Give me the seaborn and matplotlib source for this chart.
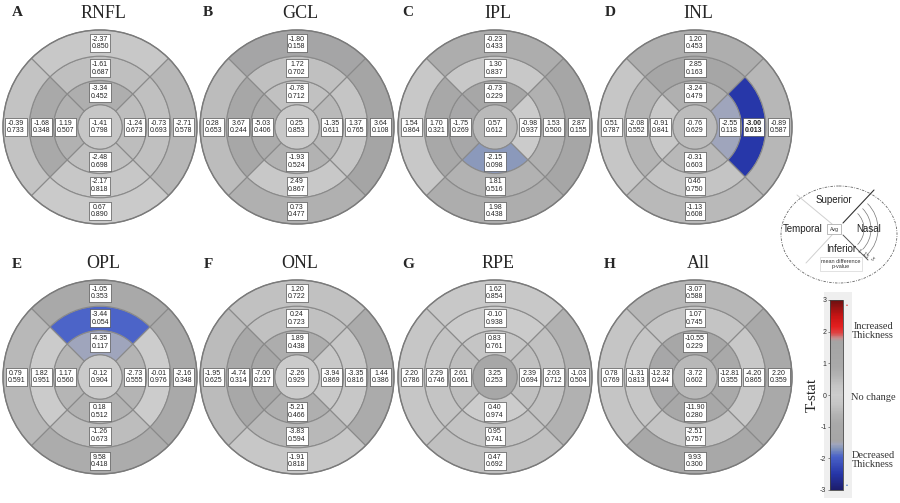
import math
import matplotlib
matplotlib.use("Agg")
import matplotlib.pyplot as plt
from matplotlib.patches import Wedge, Circle, Ellipse, Rectangle, Arc
from matplotlib.colors import LinearSegmentedColormap, Normalize
import matplotlib.colorbar as mcolorbar
import seaborn as sns

sns.set_theme(style="white")
plt.rcParams['font.family'] = ['Liberation Sans', 'DejaVu Sans']

# Order of each list: centre, inner ring (S, N, I, T), middle ring (S, N, I, T), outer ring (S, N, I, T)
rnfl_diff = [-1.41, -3.34, -1.24, -2.48, 1.19, -1.61, -0.73, -2.17, -1.68, -2.37, -2.71, 0.67, -0.39]
rnfl_p = [0.798, 0.452, 0.673, 0.698, 0.507, 0.687, 0.693, 0.818, 0.348, 0.850, 0.578, 0.890, 0.733]
gcl_diff = [0.25, -0.78, -1.35, -1.93, -5.03, 1.72, 1.37, 2.49, 3.67, -1.80, 3.64, 0.73, 0.28]
gcl_p = [0.853, 0.712, 0.611, 0.524, 0.406, 0.702, 0.765, 0.867, 0.244, 0.158, 0.108, 0.477, 0.653]
ipl_diff = [0.57, -0.73, -0.98, -2.15, -1.75, 1.30, 1.53, 1.81, 1.70, -0.23, 2.87, 1.98, 1.54]
ipl_p = [0.612, 0.229, 0.937, 0.098, 0.269, 0.837, 0.500, 0.516, 0.321, 0.433, 0.155, 0.438, 0.864]
inl_diff = [-0.76, -3.24, -2.55, -0.31, -0.91, 2.85, -3.00, 0.46, -2.08, 1.20, -0.89, -1.13, 0.51]
inl_p = [0.629, 0.479, 0.118, 0.603, 0.841, 0.163, 0.013, 0.750, 0.552, 0.453, 0.587, 0.608, 0.787]
opl_diff = [-0.12, -4.35, -2.73, 0.18, 1.17, -3.44, -0.01, -1.26, 1.82, -1.05, -2.16, 9.58, 0.79]
opl_p = [0.904, 0.117, 0.555, 0.512, 0.560, 0.054, 0.976, 0.673, 0.951, 0.353, 0.348, 0.418, 0.591]
onl_diff = [-2.26, 1.89, -3.94, -5.21, -7.00, 0.24, -3.35, -3.83, -4.74, 1.20, 1.44, -1.91, -1.95]
onl_p = [0.929, 0.438, 0.869, 0.466, 0.217, 0.723, 0.816, 0.594, 0.314, 0.722, 0.386, 0.818, 0.625]
rpe_diff = [3.25, 0.83, 2.39, 0.40, 2.61, -0.10, 2.03, 0.95, 2.29, 1.62, -1.03, 0.47, 2.20]
rpe_p = [0.253, 0.761, 0.694, 0.974, 0.661, 0.938, 0.712, 0.741, 0.746, 0.854, 0.504, 0.692, 0.786]
all_diff = [-3.72, -10.55, -12.81, -11.90, -12.32, 1.07, -4.20, -2.51, -1.31, -3.07, 2.20, 9.93, 0.78]
all_p = [0.602, 0.229, 0.355, 0.280, 0.244, 0.745, 0.865, 0.757, 0.813, 0.588, 0.359, 0.300, 0.769]

panel_letters = ["A", "B", "C", "D", "E", "F", "G", "H"]
panel_titles = ["RNFL", "GCL", "IPL", "INL", "OPL", "ONL", "RPE", "All"]
panel_data = [(rnfl_diff, rnfl_p), (gcl_diff, gcl_p), (ipl_diff, ipl_p), (inl_diff, inl_p),
              (opl_diff, opl_p), (onl_diff, onl_p), (rpe_diff, rpe_p), (all_diff, all_p)]

cbar_ticks = [3, 2, 1, 0, -1, -2, -3]

# T-stat colour scale (grey around zero, blue for thinning, red for thickening)
nodes = [(-3.0, "#1c1c6a"), (-2.5, "#2636a8"), (-1.95, "#4a62c8"), (-1.7, "#8294bb"),
         (-1.56, "#a0a6bc"), (-1.45, "#a5a5a6"), (-0.9, "#a9a9a9"), (-0.6, "#b4b4b4"),
         (-0.3, "#c5c5c5"), (0.0, "#cdcdcd"), (0.3, "#c5c5c5"), (0.6, "#b4b4b4"),
         (0.9, "#a9a9a9"), (1.7, "#a4a4a4"), (1.8, "#c49090"), (1.95, "#de4848"),
         (2.15, "#e42020"), (2.5, "#c81414"), (3.0, "#6a1010")]
cmap = LinearSegmentedColormap.from_list("tstat", [((t + 3) / 6, c) for t, c in nodes])
norm = Normalize(-3, 3)


def zval(p):
    # two-sided p-value -> |t| (normal approx.)
    lo, hi = 0.0, 6.0
    for _ in range(60):
        mid = (lo + hi) / 2
        if math.erfc(mid / math.sqrt(2)) > p:
            lo = mid
        else:
            hi = mid
    return (lo + hi) / 2


W, H = 900, 503
fig = plt.figure(figsize=(W / 100, H / 100), dpi=100)
fig.patch.set_facecolor("white")


def px_axes(x0, y0, w, h):
    return fig.add_axes([x0 / W, 1 - (y0 + h) / H, w / W, h / H])


def fig_text(x, y, s, **kw):
    fig.text(x / W, 1 - y / H, s, **kw)


radii = [0.23, 0.48, 0.73, 1.0]
sectors = [(45, 135), (-45, 45), (225, 315), (135, 225)]
label_angles = [90, 0, 270, 180]


def draw_panel(ax, diffs, pvals):
    ax.set_xlim(-1, 1)
    ax.set_ylim(-1, 1)
    ax.axis("off")
    tvals = [math.copysign(zval(p), d) for d, p in zip(diffs, pvals)]
    ax.add_patch(Circle((0, 0), radii[0], fc=cmap(norm(tvals[0])), ec="#8a8a8a", lw=0.8, clip_on=False))
    k = 1
    for ring in range(3):
        r_in, r_out = radii[ring], radii[ring + 1]
        for (a1, a2) in sectors:
            ax.add_patch(Wedge((0, 0), r_out, a1, a2, width=r_out - r_in,
                               fc=cmap(norm(tvals[k])), ec="#8a8a8a", lw=0.8, clip_on=False))
            k += 1
    ax.add_patch(Circle((0, 0), 1.0, fill=False, ec="#7a7a7a", lw=1.0, clip_on=False))
    # labels
    k = 0
    for ring in range(4):
        if ring == 0:
            positions = [(0, 0)]
        else:
            rm = (radii[ring - 1] + radii[ring]) / 2
            positions = [(rm * math.cos(math.radians(a)), rm * math.sin(math.radians(a))) for a in label_angles]
        for (x, y) in positions:
            d, p = diffs[k], pvals[k]
            ax.text(x, y, f"{d:.2f}\n{p:.3f}", ha="center", va="center", fontsize=5.0,
                    linespacing=1.15, color="#222222",
                    fontweight="bold" if p < 0.05 else "normal",
                    bbox=dict(boxstyle="square,pad=0.25", fc="white", ec="#333333", lw=0.4))
            k += 1


centers_x = [100, 297, 495, 695]
centers_y = [127, 377]
letter_x = [17, 208, 408, 610]
R = 97

for i, (diffs, pvals) in enumerate(panel_data):
    cx = centers_x[i % 4]
    cy = centers_y[i // 4]
    ax = px_axes(cx - R, cy - R, 2 * R, 2 * R)
    draw_panel(ax, diffs, pvals)
    ty = 13 if i < 4 else 264
    fig_text(cx + 3, ty, panel_titles[i], ha="center", va="center", fontsize=13,
             family=["Liberation Serif"])
    fig_text(letter_x[i % 4], ty, panel_letters[i], ha="center", va="center", fontsize=11,
             fontweight="bold", family=["Liberation Serif"])

# orientation legend
lax = px_axes(781, 186, 116, 97)
lax.set_xlim(781, 897)
lax.set_ylim(283, 186)
lax.axis("off")
lax.add_patch(Ellipse((839, 234.5), 116, 97, fill=False, ec="#666666", lw=0.6,
                      ls=(0, (3, 1.5, 1, 1.5)), clip_on=False))
lax.plot([832, 797], [224, 195], color="#d0d0d0", lw=0.7)
lax.plot([832, 806], [235, 263], color="#d0d0d0", lw=0.7)
lax.plot([843, 874], [223, 190], color="#333333", lw=0.8)
lax.plot([843, 868], [235, 260], color="#555555", lw=0.7)
for r in [22, 29, 36]:
    lax.add_patch(Arc((842, 229), 2 * r, 2 * r, theta1=-45, theta2=45, ec="#777777", lw=0.5))
for s, (x, y) in zip(["1", "1.5", "3"], [(859, 251), (865, 255), (872, 259)]):
    lax.text(x, y, s, fontsize=3.5, ha="center", va="center", rotation=-45, color="#333333")
lax.text(834, 200, "Superior", fontsize=7, ha="center", va="center", color="#222222")
lax.text(803, 229, "Temporal", fontsize=7, ha="center", va="center", color="#222222")
lax.text(869, 229, "Nasal", fontsize=7, ha="center", va="center", color="#222222")
lax.text(834, 229, "Avg", fontsize=3.8, ha="center", va="center", color="#333333",
         bbox=dict(boxstyle="square,pad=0.4", fc="white", ec="#888888", lw=0.4))
lax.text(841, 249, "Inferior", fontsize=7, ha="center", va="center", color="#222222")
lax.text(841, 264, "mean difference\np-value", fontsize=4, ha="center", va="center",
         color="#333333", linespacing=1.2,
         bbox=dict(boxstyle="square,pad=0.3", fc="white", ec="#cccccc", lw=0.4))

# colour bar
bg = Rectangle((824 / W, 1 - 498 / H), 28 / W, 206 / H, transform=fig.transFigure,
               fc="#efefef", ec="none", zorder=-5)
fig.patches.append(bg)
cax = px_axes(830, 300, 13, 190)
cax.set_zorder(5)
cb = mcolorbar.ColorbarBase(cax, cmap=cmap, norm=norm, ticks=cbar_ticks)
cb.outline.set_linewidth(0.6)
cb.outline.set_edgecolor("#444444")
cax.yaxis.set_ticks_position("left")
cax.tick_params(labelsize=5, length=1.5, width=0.4, pad=1, colors="#333333")
cax.set_yticklabels([str(t) for t in cbar_ticks])

fig.patches.append(Rectangle((846.5 / W, 1 - 485 / H), 0.8 / W, 68 / H, transform=fig.transFigure,
                             fc="#cdd8ea", ec="none", zorder=-4))
fig_text(847, 305, "\u2022", fontsize=4, color="#e03030", ha="center", va="center")
fig_text(847, 485, "\u2022", fontsize=4, color="#3060c0", ha="center", va="center")

fig_text(812, 395, "T-stat", rotation=90, fontsize=11, ha="center", va="center",
         family=["Liberation Serif"])
fig_text(873, 331, "Increased\nThickness", fontsize=7.5, ha="center", va="center",
         family=["Liberation Serif"], color="#333333", linespacing=1.1)
fig_text(873, 397, "No change", fontsize=7.5, ha="center", va="center",
         family=["Liberation Serif"], color="#333333")
fig_text(873, 460, "Decreased\nThickness", fontsize=7.5, ha="center", va="center",
         family=["Liberation Serif"], color="#333333", linespacing=1.1)

fig.savefig("out.png", dpi=100, facecolor="white")
